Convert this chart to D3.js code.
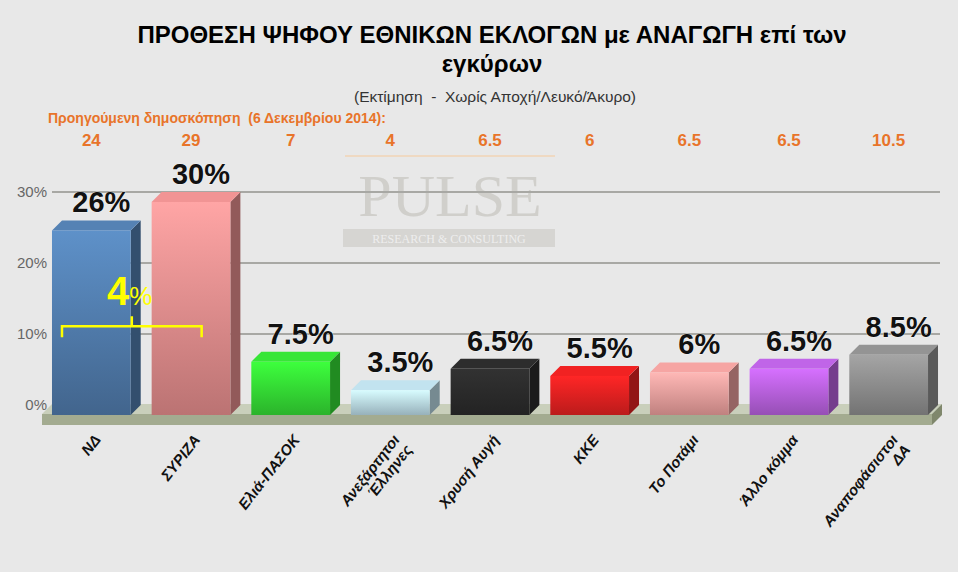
<!DOCTYPE html>
<html><head><meta charset="utf-8">
<script src="https://cdn.jsdelivr.net/npm/d3@7"></script>
<style>body{margin:0;background:#e8e8e8;font-family:Arial,"Liberation Sans",sans-serif}</style>
</head><body>
<svg id="c" width="958" height="572"></svg>
<script>
var parties = ["ΝΔ", "ΣΥΡΙΖΑ", "Ελιά-ΠΑΣΟΚ", "Ανεξάρτητοι|Έλληνες", "Χρυσή Αυγή", "ΚΚΕ", "Το Ποτάμι", "Άλλο κόμμα", "Αναποφάσιστοι|ΔΑ"];
var values = [26, 30, 7.5, 3.5, 6.5, 5.5, 6, 6.5, 8.5];
var valueLabels = ["26%", "30%", "7.5%", "3.5%", "6.5%", "5.5%", "6%", "6.5%", "8.5%"];
var previous = ["24", "29", "7", "4", "6.5", "6", "6.5", "6.5", "10.5"];
var colors = ["#4f79a8", "#e08a8a", "#33d633", "#b5d3df", "#2a2a2a", "#e02020", "#e59a98", "#b35ed8", "#8a8a8a"];
var yTicks = [0, 10, 20, 30];

var svg = d3.select("#c");
var defs = svg.append("defs");

var x = d3.scaleBand().domain(parties).range([47, 933]).paddingInner(0.21).paddingOuter(0.05);
var y = d3.scaleLinear().domain([0, 30]).range([415, 202]);
var dx = 10, dy = 10;

svg.append("rect").attr("width", 958).attr("height", 572).attr("fill", "#e8e8e8");

// titles
svg.append("text").attr("x", 492).attr("y", 43).attr("text-anchor", "middle")
  .attr("font-size", 24).attr("font-weight", "bold").text("ΠΡΟΘΕΣΗ ΨΗΦΟΥ ΕΘΝΙΚΩΝ ΕΚΛΟΓΩΝ με ΑΝΑΓΩΓΗ επί των");
svg.append("text").attr("x", 492).attr("y", 72).attr("text-anchor", "middle")
  .attr("font-size", 24).attr("font-weight", "bold").text("εγκύρων");
svg.append("text").attr("x", 495).attr("y", 102).attr("text-anchor", "middle")
  .attr("font-size", 15.5).attr("fill", "#333").attr("xml:space", "preserve").text("(Εκτίμηση  -  Χωρίς Αποχή/Λευκό/Άκυρο)");
svg.append("text").attr("x", 48).attr("y", 123).attr("font-size", 14).attr("font-weight", "bold")
  .attr("fill", "#e8742a").attr("xml:space", "preserve").text("Προηγούμενη δημοσκόπηση  (6 Δεκεμβρίου 2014):");

// watermark
svg.append("text").attr("x", 450).attr("y", 216).attr("text-anchor", "middle")
  .attr("font-family", "Liberation Serif, serif").attr("font-size", 60).attr("fill", "#d0cfcb").text("PULSE");
svg.append("rect").attr("x", 343).attr("y", 229).attr("width", 212).attr("height", 18).attr("fill", "#d6d5d2");
svg.append("text").attr("x", 449).attr("y", 243).attr("text-anchor", "middle")
  .attr("font-family", "Liberation Serif, serif").attr("font-size", 12).attr("fill", "#eeeeee").text("RESEARCH & CONSULTING");
svg.append("line").attr("x1", 345).attr("x2", 555).attr("y1", 156).attr("y2", 156).attr("stroke", "#efd9c2").attr("stroke-width", 2);

// gridlines (back wall)
yTicks.forEach(function(t) {
  if (t > 0) svg.append("line").attr("x1", 52).attr("x2", 940).attr("y1", y(t) - dy).attr("y2", y(t) - dy)
    .attr("stroke", "#a8a8a4").attr("stroke-width", 2);
  svg.append("text").attr("x", 47).attr("y", y(t) - dy + 5).attr("text-anchor", "end")
    .attr("font-size", 15).attr("fill", "#666").text(t + "%");
});

// floor
svg.append("path").attr("d", "M42,414 L52,404 L942,404 L932,414 Z").attr("fill", "#c9cfbb");
svg.append("rect").attr("x", 42).attr("y", 414).attr("width", 890).attr("height", 11).attr("fill", "#a3ab90");
svg.append("path").attr("d", "M932,414 L942,404 L942,415 L932,425 Z").attr("fill", "#7f876c");

// previous values
svg.selectAll(".prev").data(previous).enter().append("text")
  .attr("x", function(d, i) { return x(parties[i]) + x.bandwidth() / 2; })
  .attr("y", 146).attr("text-anchor", "middle").attr("font-size", 17).attr("font-weight", "bold")
  .attr("fill", "#e8742a").text(function(d) { return d; });

// bars
parties.forEach(function(p, i) {
  var c = d3.color(colors[i]);
  var gid = "g" + i;
  var g = defs.append("linearGradient").attr("id", gid).attr("x1", 0).attr("x2", 0).attr("y1", 0).attr("y2", 1);
  g.append("stop").attr("offset", 0).attr("stop-color", c.brighter(0.5));
  g.append("stop").attr("offset", 1).attr("stop-color", c.darker(0.5));
  var x0 = x(p), w = x.bandwidth(), top = y(values[i]), base = y(0);
  svg.append("path").attr("d", "M" + (x0 + w) + "," + base + "L" + (x0 + w + dx) + "," + (base - dy) +
      "L" + (x0 + w + dx) + "," + (top - dy) + "L" + (x0 + w) + "," + top + "Z").attr("fill", c.darker(1.2));
  svg.append("path").attr("d", "M" + x0 + "," + top + "L" + (x0 + dx) + "," + (top - dy) +
      "L" + (x0 + w + dx) + "," + (top - dy) + "L" + (x0 + w) + "," + top + "Z").attr("fill", c.brighter(0.2));
  svg.append("rect").attr("x", x0).attr("y", top).attr("width", w).attr("height", base - top).attr("fill", "url(#" + gid + ")");
  svg.append("text").attr("x", x0 + w / 2 + 10).attr("y", top - 18).attr("text-anchor", "middle")
    .attr("font-size", 29).attr("font-weight", "bold").attr("fill", "#111")
    .attr("stroke", "#fff").attr("stroke-width", 0.6).attr("paint-order", "stroke").text(valueLabels[i]);

  var lines = p.split("|");
  var lbl = svg.append("text").attr("transform", "translate(" + (x0 + w / 2 + 10) + ",440) rotate(-52)")
    .attr("text-anchor", "end").attr("font-size", 15).attr("font-weight", "bold").attr("font-style", "italic").attr("fill", "#111");
  lines.forEach(function(l, k) {
    lbl.append("tspan").attr("x", 0).attr("dy", k ? 16 : 0).text(l);
  });
});

// gap bracket
var bx1 = x(parties[0]) + 10, bx2 = x(parties[1]) + 50, by = y(12.5);
svg.append("path").attr("d", "M" + bx1 + "," + (by + 11) + "V" + by + "H" + bx2 + "V" + (by + 11) +
    "M" + ((bx1 + bx2) / 2) + "," + by + "v-10").attr("fill", "none").attr("stroke", "#ffff00").attr("stroke-width", 2.5);
var gt = svg.append("text").attr("x", 107).attr("y", 305).attr("fill", "#ffff00").attr("font-weight", "bold");
gt.append("tspan").attr("font-size", 40).text("4");
gt.append("tspan").attr("font-size", 26).attr("font-weight", "normal").text("%");
</script>
</body></html>
